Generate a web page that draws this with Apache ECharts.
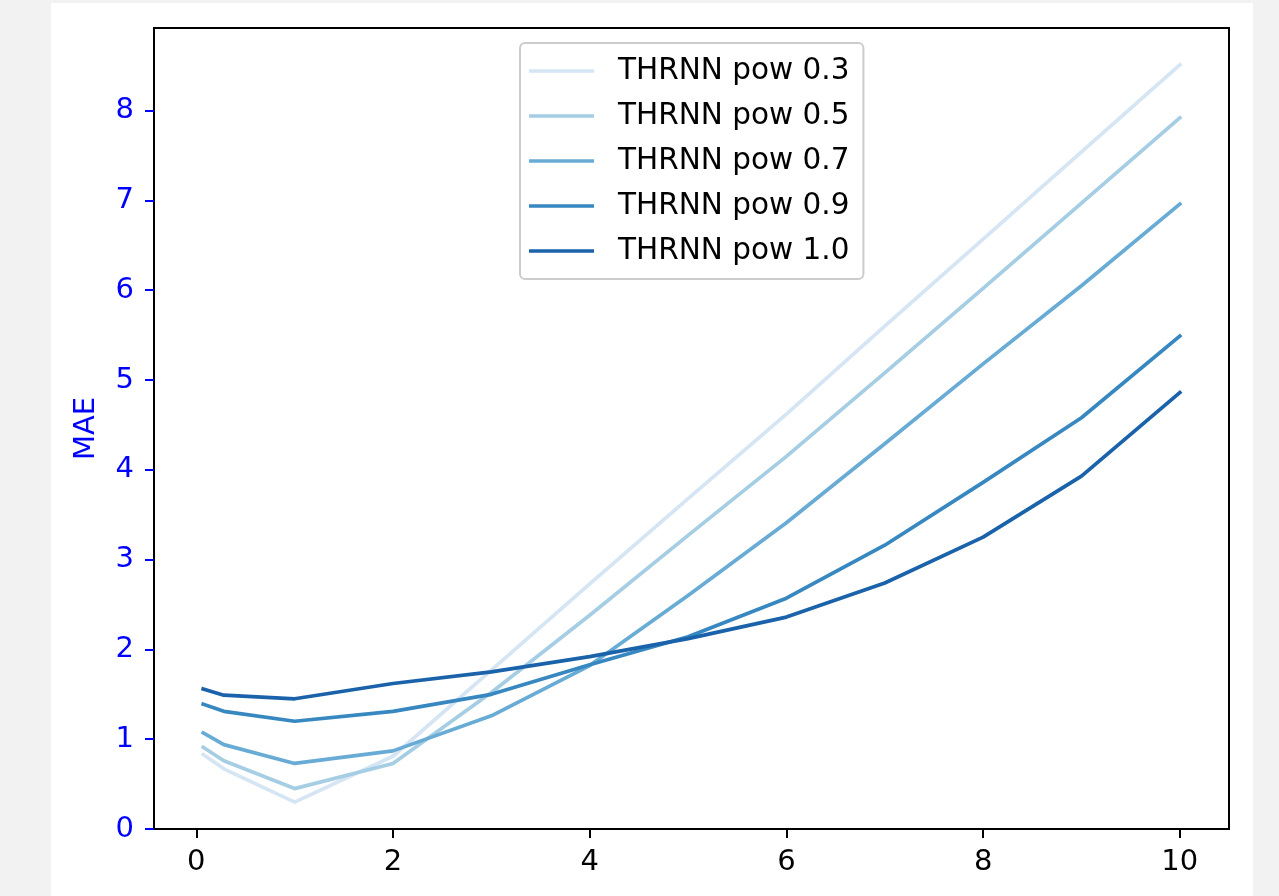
<!DOCTYPE html>
<html>
<head>
<meta charset="utf-8">
<script src="https://cdn.jsdelivr.net/npm/echarts@6/dist/echarts.min.js"></script>
<style>
  html, body { margin: 0; padding: 0; background: #f2f2f2; }
  #paper { position: absolute; left: 51px; top: 3px; width: 1202px; height: 893px; background: #ffffff; }
  #chart { position: absolute; left: 0; top: 0; width: 1279px; height: 896px; }
</style>
</head>
<body>
<div id="paper"></div>
<div id="chart"></div>
<script>
const xs = [0.07, 0.28, 1, 2, 3, 4, 5, 6, 7, 8, 9, 10];
const pow03 = [0.83, 0.67, 0.30, 0.81, 1.77, 2.73, 3.68, 4.62, 5.60, 6.57, 7.54, 8.51];
const pow05 = [0.91, 0.76, 0.45, 0.73, 1.52, 2.38, 3.27, 4.15, 5.08, 6.02, 6.97, 7.92];
const pow07 = [1.07, 0.94, 0.73, 0.87, 1.26, 1.82, 2.60, 3.41, 4.29, 5.18, 6.05, 6.96];
const pow09 = [1.39, 1.31, 1.20, 1.31, 1.50, 1.83, 2.14, 2.57, 3.16, 3.86, 4.58, 5.49];
const pow10 = [1.56, 1.49, 1.45, 1.62, 1.75, 1.92, 2.12, 2.36, 2.74, 3.25, 3.93, 4.86];
const seriesNames = ['THRNN pow 0.3', 'THRNN pow 0.5', 'THRNN pow 0.7', 'THRNN pow 0.9', 'THRNN pow 1.0'];
const seriesValues = [pow03, pow05, pow07, pow09, pow10];
const colors = ['#d5e5f4', '#a5cde3', '#68acd5', '#3787c0', '#1a62a9'];
const xTicks = [0, 2, 4, 6, 8, 10];
const yTicks = [0, 1, 2, 3, 4, 5, 6, 7, 8];

const font = 'DejaVu Sans';
const chart = echarts.init(document.getElementById('chart'), null, { renderer: 'canvas' });

const series = seriesNames.map((name, i) => ({
  name: name,
  type: 'line',
  data: xs.map((x, j) => [x, seriesValues[i][j]]),
  showSymbol: false,
  symbol: 'none',
  lineStyle: { color: colors[i], width: 3.7, cap: 'square', join: 'round' },
  itemStyle: { color: colors[i] },
  animation: false,
  z: 2 + i
}));

chart.setOption({
  backgroundColor: 'transparent',
  animation: false,
  grid: {
    left: 154, top: 28, right: 50, bottom: 67,
    show: true, borderColor: '#000000', borderWidth: 2, backgroundColor: 'transparent',
    containLabel: false
  },
  legend: {
    show: true,
    left: 520, top: 43,
    orient: 'vertical',
    padding: [13, 14, 13, 9],
    itemGap: 15,
    itemWidth: 65,
    itemHeight: 3.7,
    icon: 'rect',
    backgroundColor: '#ffffff',
    borderColor: '#cccccc',
    borderWidth: 2,
    borderRadius: 5,
    textStyle: { fontFamily: font, fontSize: 29.5, color: '#000000', lineHeight: 30, padding: [0, 0, 0, 19] },
    data: seriesNames
  },
  xAxis: {
    type: 'value',
    min: -0.43,
    max: 10.5,
    splitLine: { show: false },
    axisLine: { show: true, onZero: false, lineStyle: { color: '#000000', width: 2 } },
    axisTick: { show: true, length: 9, lineStyle: { color: '#000000', width: 2 }, customValues: xTicks },
    axisLabel: { show: true, margin: 19, fontFamily: font, fontSize: 29, color: '#000000', customValues: xTicks }
  },
  yAxis: {
    type: 'value',
    min: 0,
    max: 8.92,
    name: 'MAE',
    nameLocation: 'middle',
    nameGap: 53,
    nameTextStyle: { fontFamily: font, fontSize: 29, color: '#0000ff' },
    splitLine: { show: false },
    axisLine: { show: true, onZero: false, lineStyle: { color: '#000000', width: 2 } },
    axisTick: { show: true, length: 9, lineStyle: { color: '#0000ff', width: 2 }, customValues: yTicks },
    axisLabel: { show: true, margin: 20, fontFamily: font, fontSize: 29, color: '#0000ff', padding: [5, 0, 0, 0], customValues: yTicks }
  },
  series: series
});
</script>
</body>
</html>
